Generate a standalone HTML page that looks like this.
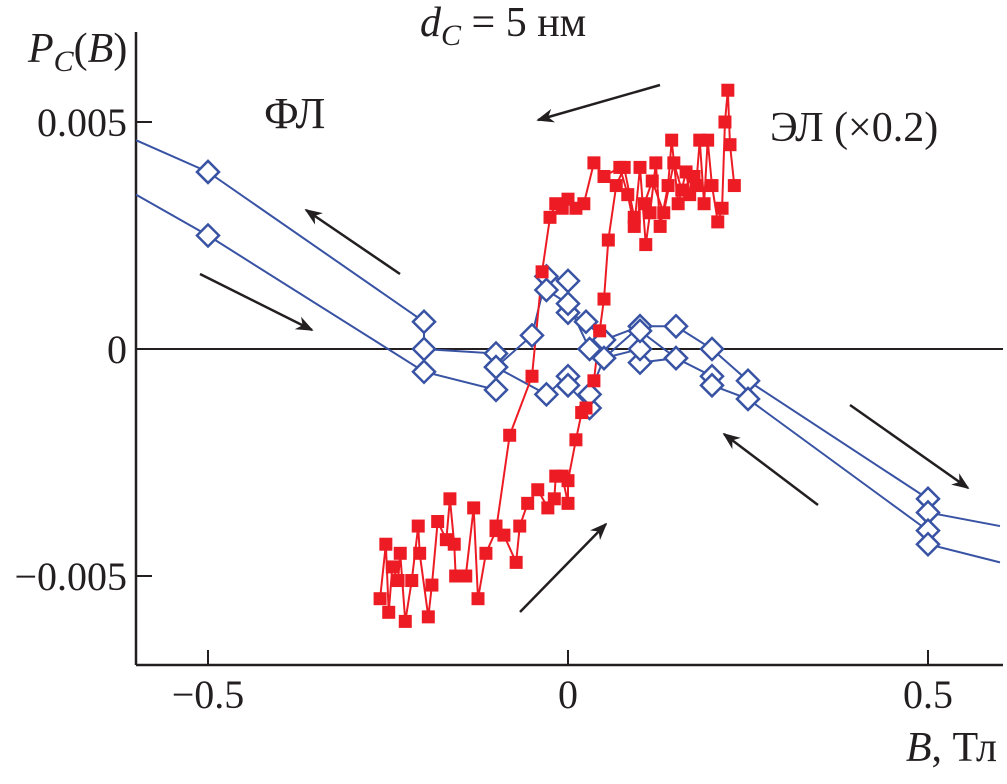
<!DOCTYPE html>
<html><head><meta charset="utf-8"><style>
html,body{margin:0;padding:0;background:#fff}
svg text{font-family:"Liberation Serif",serif;fill:#231f20}
</style></head><body>
<svg id="c" width="1007" height="779" viewBox="0 0 1007 779" xmlns="http://www.w3.org/2000/svg">
<defs><marker id="ah" viewBox="0 0 10 10" refX="9" refY="5" markerWidth="7" markerHeight="7" orient="auto"><path d="M0,1 L10,5 L0,9 L3,5z" fill="#231f20"/></marker></defs>
<g id="plot"></g>
<text x="28" y="62" font-size="42" font-style="italic">P<tspan font-size="30" dy="9">C</tspan><tspan dy="-9" font-style="normal">(</tspan>B<tspan font-style="normal">)</tspan></text>
<text x="420" y="36" font-size="42"><tspan font-style="italic">d</tspan><tspan font-style="italic" font-size="30" dy="9">C</tspan><tspan dy="-9"> = 5 нм</tspan></text>
<text x="264" y="128" font-size="44">ФЛ</text>
<text x="770" y="141" font-size="42">ЭЛ (×0.2)</text>
<text x="997" y="761" font-size="42" text-anchor="end"><tspan font-style="italic">B</tspan>, Тл</text>
</svg>
<script>
const xTicks=[-0.5,0,0.5];
const xTickLabels=["−0.5","0","0.5"];
const yTicks=[0.005,0,-0.005];
const yTickLabels=["0.005","0","−0.005"];
// blue PL series
const blueUpX=[-0.6,-0.5,-0.2,-0.2,-0.1,-0.1,-0.05,-0.03,0,0,0.025,0.05,0.1,0.15,0.2,0.25,0.5,0.5,0.6];
const blueUpY=[0.0046,0.0039,0.0006,0.0000,-0.0001,-0.0004,0.0003,0.0016,0.0015,0.0008,0.0006,0.0002,0.0005,0.0005,0.0000,-0.0007,-0.0033,-0.0036,-0.0039];
const blueUpM=[0,1,1,1,1,1,1,1,1,1,1,1,1,1,1,1,1,1,0];
const blueDnX=[-0.6,-0.5,-0.25,-0.2,-0.1,-0.1,-0.03,0,0,0.03,0.03,0.05,0.1,0.1,0.15,0.2,0.2,0.25,0.5,0.5,0.6];
const blueDnY=[0.0034,0.0025,0.0000,-0.0005,-0.0009,-0.0004,-0.0010,-0.0006,-0.0008,-0.0013,-0.0010,-0.0002,0.0005,-0.0003,-0.0002,-0.0006,-0.0008,-0.0011,-0.0040,-0.0043,-0.0047];
const blueDnM=[0,1,0,1,1,1,1,1,1,1,1,1,1,1,1,1,1,1,1,1,0];
const blueMidX=[-0.03,0,0.03,0.05,0.1,0.1,0.15];
const blueMidY=[0.0013,0.0010,0.0000,-0.0002,0.0000,0.0004,-0.0002];
// red EL: down-sweep branch (B decreasing)
const redDownX=[0.231,0.225,0.222,0.218,0.214,0.208,0.2,0.194,0.189,0.183,0.178,0.169,0.164,0.153,0.144,0.139,0.128,0.122,0.114,0.108,0.1,0.092,0.083,0.072,0.05,0.036,0.022,0.011,0.0,-0.008,-0.017,-0.025,-0.036,-0.05,-0.081,-0.1,-0.114,-0.125,-0.131,-0.142,-0.156,-0.158,-0.164,-0.169,-0.181,-0.189,-0.194,-0.206,-0.208,-0.217,-0.226,-0.233,-0.236,-0.244,-0.249,-0.253,-0.261];
const redDownY=[0.0036,0.0045,0.0057,0.0050,0.0031,0.0028,0.0036,0.0046,0.0032,0.0046,0.0036,0.0034,0.0039,0.0032,0.0046,0.0036,0.0027,0.0041,0.0030,0.0023,0.0040,0.0027,0.0034,0.0040,0.0038,0.0041,0.0032,0.0031,0.0033,0.0031,0.0032,0.0029,0.0017,-0.0006,-0.0019,-0.0040,-0.0045,-0.0055,-0.0035,-0.0050,-0.0050,-0.0043,-0.0033,-0.0042,-0.0038,-0.0052,-0.0059,-0.0045,-0.0039,-0.0051,-0.0060,-0.0045,-0.0051,-0.0048,-0.0058,-0.0043,-0.0055];
// red EL: up-sweep branch (B increasing)
const redUpX=[-0.1,-0.089,-0.072,-0.067,-0.056,-0.042,-0.028,-0.019,-0.017,-0.008,0.0,0.0,0.011,0.019,0.025,0.036,0.044,0.05,0.056,0.067,0.078,0.092,0.106,0.117,0.133,0.147,0.158,0.175];
const redUpY=[-0.0039,-0.0041,-0.0047,-0.0039,-0.0034,-0.0031,-0.0035,-0.0033,-0.0028,-0.0028,-0.0034,-0.0029,-0.0020,-0.0014,-0.0013,-0.0007,0.0004,0.0011,0.0024,0.0036,0.0040,0.0029,0.0032,0.0037,0.0030,0.0041,0.0035,0.0038];
function sx(v){return 568+v*720;}
function sy(v){return 349-v*45400;}
const L=136,R=1003,T=32,B=665;
const NS="http://www.w3.org/2000/svg";
const g=document.getElementById('plot');
function mk(t,a){const e=document.createElementNS(NS,t);for(const k in a)e.setAttribute(k,a[k]);g.appendChild(e);return e;}
let z=mk('line',{x1:L,x2:R,y1:sy(0),y2:sy(0),stroke:'#231f20','stroke-width':2});


let ya=mk('line',{x1:L,x2:L,y1:T,y2:B,stroke:'#231f20','stroke-width':2.5});


let xa=mk('line',{x1:L,x2:R,y1:B,y2:B,stroke:'#231f20','stroke-width':2.5});


xTicks.forEach((v,i)=>{
 let t=mk('line',{x1:sx(v),x2:sx(v),y1:B,y2:B-15,stroke:'#231f20','stroke-width':2});
 
 
 let l=mk('text',{x:sx(v),y:B+43,'font-size':40,'text-anchor':'middle'});l.textContent=xTickLabels[i];
 
 
});
yTicks.forEach((v,i)=>{
 let t=mk('line',{x1:L,x2:L+16,y1:sy(v),y2:sy(v),stroke:'#231f20','stroke-width':2});
 
 
 let l=mk('text',{x:L-9,y:sy(v)+14,'font-size':40,'text-anchor':'end'});l.textContent=yTickLabels[i];
 
 
});
function line(xs,ys,col,name){
 const p=mk('polyline',{points:xs.map((x,i)=>sx(x)+','+sy(ys[i])).join(' '),fill:'none',stroke:col,'stroke-width':2});
 
 
}
function diamonds(xs,ys,ms,name){
 xs.forEach((x,i)=>{ if(ms&&!ms[i])return;
  const cx=sx(x),cy=sy(ys[i]),r=11;
  const d=mk('polygon',{points:`${cx},${cy-r} ${cx+r},${cy} ${cx},${cy+r} ${cx-r},${cy}`,fill:'#fff',stroke:'#3953a4','stroke-width':2.5});
  
  
 });
}
function squares(xs,ys,name){
 xs.forEach((x,i)=>{
  const s=mk('rect',{x:sx(x)-6.5,y:sy(ys[i])-6.5,width:13,height:13,fill:'#ed1c24'});
  
  
 });
}
line(blueUpX,blueUpY,'#3953a4','pl-line-upper');
line(blueDnX,blueDnY,'#3953a4','pl-line-lower');
line(blueMidX,blueMidY,'#3953a4','pl-line-middle');
line(redDownX,redDownY,'#ed1c24','el-line-down');
line(redUpX,redUpY,'#ed1c24','el-line-up');
diamonds(blueUpX,blueUpY,blueUpM,'pl-point-upper');
diamonds(blueDnX,blueDnY,blueDnM,'pl-point-lower');
diamonds(blueMidX,blueMidY,null,'pl-point-middle');
squares(redDownX,redDownY,'el-point-down');
squares(redUpX,redUpY,'el-point-up');
[[660,85,538,120],[400,274,306,210],[200,274,312,330],[850,405,968,488],[818,505,724,434],[520,612,606,524]].forEach(a=>{
 const e=mk('line',{x1:a[0],y1:a[1],x2:a[2],y2:a[3],stroke:'#231f20','stroke-width':2.5,'marker-end':'url(#ah)'});
 
 
});
</script>
</body></html>
